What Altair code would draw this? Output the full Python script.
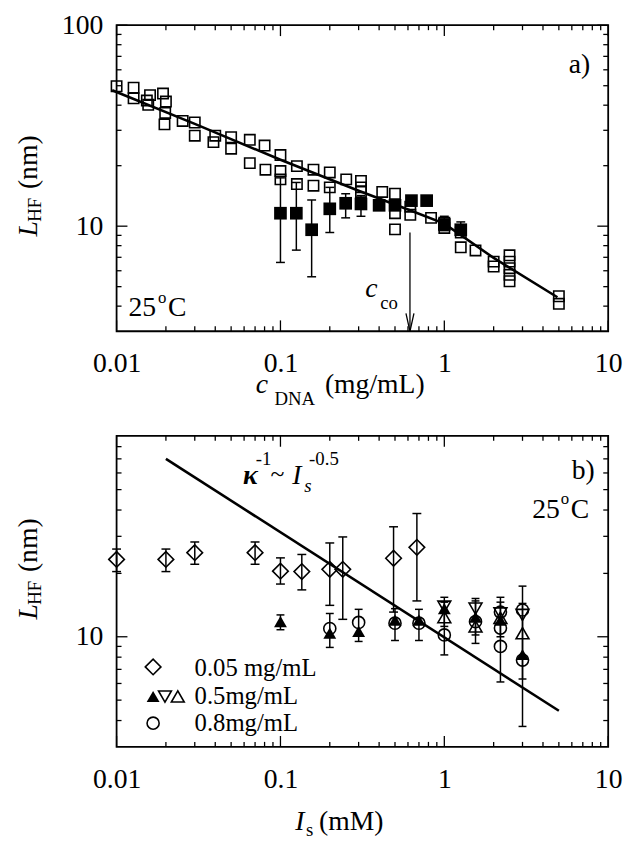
import altair as alt
import pandas as pd

FONT = "Liberation Serif"
W = 498
HA, HB = 310, 315

# ---------------- panel a) data ----------------
a_c = [0.010, 0.0127, 0.0127, 0.0153, 0.016, 0.0156, 0.0192, 0.020, 0.0198, 0.0196,
       0.0253, 0.030, 0.030, 0.040, 0.039, 0.050, 0.050, 0.065, 0.065, 0.080, 0.081,
       0.100, 0.100, 0.100, 0.126, 0.126, 0.159, 0.159, 0.200, 0.200, 0.252,
       0.31, 0.31, 0.31, 0.418, 0.50, 0.50, 0.50, 0.62, 0.62, 0.83, 1.0, 1.0,
       1.26, 1.26, 1.55, 2.0, 2.0, 2.5, 2.5, 2.5, 2.5, 2.5, 5.0, 5.0]
a_L = [49.7, 48.9, 43.3, 42.2, 44.9, 40.2, 45.7, 41.7, 36.6, 32.1,
       33.4, 32.8, 28.2, 28.2, 26.2, 27.7, 24.3, 26.9, 20.6, 25.2, 19.1,
       22.6, 18.8, 17.1, 19.9, 16.2, 19.1, 15.9, 18.5, 15.6, 17.1,
       16.8, 15.6, 14.8, 14.8, 14.5, 11.6, 9.64, 12.5, 11.4, 11.0, 10.4, 9.8,
       9.3, 7.85, 7.57, 6.66, 6.3, 7.16, 6.66, 6.18, 5.73, 5.32, 4.48, 4.11]

af_c = [0.1, 0.125, 0.155, 0.2, 0.25, 0.31, 0.40, 0.5, 0.63, 0.78, 1.0, 1.26]
af_L = [11.6, 11.6, 9.6, 12.2, 13.0, 12.9, 12.7, 12.7, 13.4, 13.4, 10.2, 9.6]
af_lo = [6.6, 7.6, 5.6, 9.3, 11.0, 11.2, 12.0, 12.0, 12.8, 12.8, 9.5, 9.0]
af_hi = [17.4, 16.5, 13.5, 15.6, 14.5, 14.2, 13.4, 13.4, 14.0, 14.0, 11.2, 10.5]

fit_c = [0.0094, 0.03, 0.1, 0.3, 0.6, 1.0, 2.0, 4.9]
fit_L = [47.5, 32.3, 21.4, 15.0, 12.1, 10.3, 6.95, 4.43]

cco_c = [0.617]
cco_top = [9.3]

# ---------------- panel b) data ----------------
dia_I = [0.01, 0.02, 0.03, 0.07, 0.10, 0.135, 0.20, 0.24, 0.49, 0.68]
dia_L = [23.3, 23.3, 25.1, 25.1, 20.5, 20.4, 20.9, 20.9, 23.6, 26.6]
dia_lo = [20.4, 20.4, 22.1, 22.1, 17.8, 16.7, 14.1, 12.1, 13.1, 14.8]
dia_hi = [26.1, 26.1, 28.2, 28.2, 23.7, 24.6, 27.9, 29.8, 33.3, 38.5]

tf_I = [0.1, 0.2, 0.3, 0.5, 0.7, 1.0, 1.55, 2.2, 3.0]
tf_L = [11.8, 10.4, 10.6, 12.0, 12.0, 13.6, 12.4, 12.0, 8.24]
td_I = [1.0, 1.55, 2.2, 3.0]
td_L = [13.9, 13.6, 12.9, 12.7]
tu_I = [1.0, 1.55, 2.2, 3.0]
tu_L = [12.4, 11.2, 12.3, 10.4]
ci_I = [0.2, 0.3, 0.5, 0.7, 1.0, 1.55, 2.2, 2.2, 2.2, 3.0, 3.0]
ci_L = [10.95, 11.7, 11.6, 11.6, 10.2, 11.8, 13.1, 11.0, 9.0, 13.4, 7.75]

be_I = [0.1, 0.2, 0.3, 0.5, 0.7, 1.0, 1.55, 2.2, 3.0, 1.0, 1.55, 2.2, 3.0]
be_lo = [10.8, 8.9, 9.5, 9.6, 9.6, 8.2, 9.3, 6.1, 3.75, 11.2, 10.2, 10.0, 6.3]
be_hi = [12.7, 12.9, 13.5, 13.6, 13.5, 15.4, 15.2, 15.4, 17.4, 14.6, 14.8, 14.6, 14.4]

deb_I = [0.02, 5.0]
deb_L = [70.0, 4.45]

# ---------------- ticks ----------------
x_major = [0.01, 0.1, 1, 10]
x_minor = [0.02, 0.03, 0.04, 0.05, 0.06, 0.07, 0.08, 0.09,
           0.2, 0.3, 0.4, 0.5, 0.6, 0.7, 0.8, 0.9,
           2, 3, 4, 5, 6, 7, 8, 9]
ya_major = [10, 100]
ya_minor = [4, 5, 6, 7, 8, 9, 20, 30, 40, 50, 60, 70, 80, 90]
yb_major = [10]
yb_minor = [4, 5, 6, 7, 8, 9, 20, 30, 40, 50, 60, 70, 80]

xs = alt.Scale(type="log", domain=[0.01, 10], nice=False, padding=0)
ysa = alt.Scale(type="log", domain=[3, 100], nice=False, padding=0)
ysb = alt.Scale(type="log", domain=[3, 90], nice=False, padding=0)

x_axis = alt.Axis(values=x_major, format="~g", labelPadding=19, labelFlush=False)


def X(f):
    return alt.X(f, type="quantitative", scale=xs, axis=x_axis, title=None)


def Y(f, scale, vals):
    return alt.Y(f, type="quantitative", scale=scale,
                 axis=alt.Axis(values=vals, format="~g", labelPadding=14, labelFlush=False),
                 title=None)


def txt(s, x, y, size=28, style="normal", weight="normal", angle=0, align="left"):
    return alt.Chart(pd.DataFrame({"t": [s]})).mark_text(
        font=FONT, fontSize=size, fontStyle=style, fontWeight=weight, angle=angle,
        align=align, baseline="alphabetic", color="black"
    ).encode(text="t:N", x=alt.value(x), y=alt.value(y))


def ticks(scale, H, yvals_major, yvals_minor):
    layers = []
    for vals, ln in ((x_major, 11), (x_minor, 5)):
        d = alt.Chart(pd.DataFrame({"v": vals}))
        layers.append(d.mark_rule(color="black", strokeWidth=1.3).encode(
            x=X("v"), y=alt.value(H), y2=alt.value(H - ln)))
        layers.append(d.mark_rule(color="black", strokeWidth=1.3).encode(
            x=X("v"), y=alt.value(0), y2=alt.value(ln)))
    for vals, ln in ((yvals_major, 11), (yvals_minor, 5)):
        d = alt.Chart(pd.DataFrame({"v": vals}))
        yenc = Y("v", scale, yvals_major)
        layers.append(d.mark_rule(color="black", strokeWidth=1.3).encode(
            y=yenc, x=alt.value(0), x2=alt.value(ln)))
        layers.append(d.mark_rule(color="black", strokeWidth=1.3).encode(
            y=yenc, x=alt.value(W), x2=alt.value(W - ln)))
    return layers


def point(xs_, ys_, scale, yv, shape, size, filled, sw=1.6):
    d = pd.DataFrame({"x": xs_, "y": ys_})
    return alt.Chart(d).mark_point(shape=shape, size=size, filled=filled, opacity=1,
                                   color="black", strokeWidth=sw).encode(
        x=X("x"), y=Y("y", scale, yv))


def errbars(xs_, lo, hi, scale, yv, cap=9):
    d = alt.Chart(pd.DataFrame({"x": xs_, "lo": lo, "hi": hi}))
    return [
        d.mark_rule(color="black", strokeWidth=1.5).encode(x=X("x"), y=Y("lo", scale, yv), y2="hi"),
        d.mark_tick(orient="horizontal", color="black", size=cap, thickness=1.5, opacity=1).encode(
            x=X("x"), y=Y("lo", scale, yv)),
        d.mark_tick(orient="horizontal", color="black", size=cap, thickness=1.5, opacity=1).encode(
            x=X("x"), y=Y("hi", scale, yv)),
    ]


def sym(shape, x, y, size, filled):
    return alt.Chart(pd.DataFrame({"k": [0]})).mark_point(
        shape=shape, size=size, filled=filled, opacity=1, color="black", strokeWidth=1.6
    ).encode(x=alt.value(x), y=alt.value(y))


# ---------------- panel a ----------------
pa = []
pa += ticks(ysa, HA, ya_major, ya_minor)
pa.append(alt.Chart(pd.DataFrame({"x": fit_c, "y": fit_L})).mark_line(
    color="black", strokeWidth=2.6).encode(x=X("x"), y=Y("y", ysa, ya_major)))
pa.append(point(a_c, a_L, ysa, ya_major, "square", 110, False))
pa += errbars(af_c, af_lo, af_hi, ysa, ya_major)
pa.append(point(af_c, af_L, ysa, ya_major, "square", 165, True))
pa.append(alt.Chart(pd.DataFrame({"x": cco_c, "y": cco_top})).mark_rule(
    color="black", strokeWidth=1.3).encode(x=X("x"), y=Y("y", ysa, ya_major), y2=alt.value(HA)))
pa.append(alt.Chart(pd.DataFrame({"x": cco_c})).mark_point(
    shape="M -0.45 -1 L 0 1 L 0.45 -1", size=324, filled=False, color="black",
    strokeWidth=1.3, opacity=1).encode(x=X("x"), y=alt.value(HA - 9)))
pa += [
    txt("a)", 458, 48),
    txt("25", 12, HA - 15), txt("o", 42, HA - 29, size=17), txt("C", 52, HA - 15),
    txt("c", 252, HA - 35, style="italic"), txt("co", 267, HA - 23, size=19),
    # x title
    txt("c", 141, HA + 63, style="italic"), txt("DNA", 160, HA + 75, size=19),
    txt("(mg/mL)", 211, HA + 63),
    # y title
    txt("L", -81, 214, style="italic", angle=270),
    txt("HF", -77, 199, size=19, angle=270),
    txt("(nm)", -81, 166, angle=270),
]
chart_a = alt.layer(*pa).properties(width=W, height=HA)

# ---------------- panel b ----------------
pb = []
pb += ticks(ysb, HB, yb_major, yb_minor)
pb.append(alt.Chart(pd.DataFrame({"x": deb_I, "y": deb_L})).mark_line(
    color="black", strokeWidth=2.6).encode(x=X("x"), y=Y("y", ysb, yb_major)))
pb += errbars(dia_I, dia_lo, dia_hi, ysb, yb_major)
pb += errbars(be_I, be_lo, be_hi, ysb, yb_major, cap=8)
pb.append(point(dia_I, dia_L, ysb, yb_major, "diamond", 250, False))
pb.append(point(ci_I, ci_L, ysb, yb_major, "circle", 150, False))
pb.append(point(tu_I, tu_L, ysb, yb_major, "triangle-up", 170, False))
pb.append(point(td_I, td_L, ysb, yb_major, "triangle-down", 170, False))
pb.append(point(tf_I, tf_L, ysb, yb_major, "triangle-up", 170, True))
pb += [
    sym("diamond", 37, 234, 250, False),
    sym("triangle-up", 37, 264, 170, True),
    sym("triangle-down", 49, 264, 170, False),
    sym("triangle-up", 62, 264, 170, False),
    sym("circle", 37, 291, 150, False),
    txt("0.05 mg/mL", 79, 243, size=25),
    txt("0.5mg/mL", 79, 272, size=25),
    txt("0.8mg/mL", 79, 299, size=25),
    txt("κ", 128, 49, style="italic", weight="bold"),
    txt("-1", 141, 29, size=19),
    txt("~", 156, 47, size=26),
    txt("I", 178, 49, style="italic"),
    txt("s", 190, 57, size=19, style="italic"),
    txt("-0.5", 195, 29, size=19),
    txt("b)", 461, 44),
    txt("25", 421, 83), txt("o", 450, 69, size=17), txt("C", 460, 83),
    # x title
    txt("I", 181, HB + 84, style="italic"), txt("s", 192, HB + 90, size=19),
    txt("(mM)", 205, HB + 84),
    # y title
    txt("L", -81, 186, style="italic", angle=270),
    txt("HF", -77, 171, size=19, angle=270),
    txt("(nm)", -81, 138, angle=270),
]
chart_b = alt.layer(*pb).properties(width=W, height=HB)

chart = alt.vconcat(chart_a, chart_b, spacing=24).properties(
    padding={"top": -3, "left": 6, "right": 0, "bottom": 0}
).configure_view(stroke="black", strokeWidth=1.8).configure_axis(
    labelFont=FONT, labelFontSize=28, labelColor="black", ticks=False, tickSize=0,
    domain=False, grid=False, labelFlush=False
)

chart.save("out.html", embed_options={"renderer": "svg", "actions": False})
